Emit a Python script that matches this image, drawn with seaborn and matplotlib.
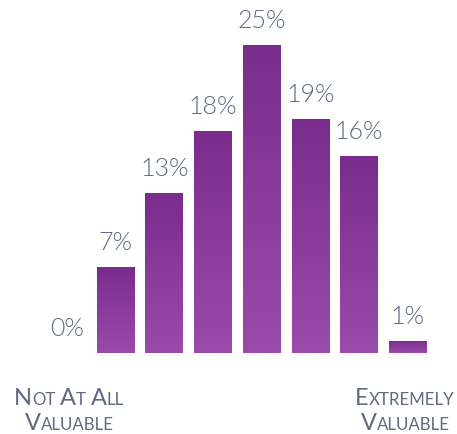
import matplotlib
matplotlib.use("Agg")
import matplotlib.pyplot as plt
import numpy as np
import pandas as pd
import seaborn as sns
from matplotlib.colors import LinearSegmentedColormap

# ---- data ----
scale_points = ["1", "2", "3", "4", "5", "6", "7", "8"]
percent_values = [0, 7, 13, 18, 25, 19, 16, 1]
value_labels = ["0%", "7%", "13%", "18%", "25%", "19%", "16%", "1%"]
left_label = ["Not At All", "Valuable"]
right_label = ["Extremely", "Valuable"]

TEXT_COLOR = "#5f6a7e"
FONT = ["Lato", "DejaVu Sans"]

sns.set_theme(style="white")
plt.rcParams["font.family"] = FONT

W, H = 457, 434
fig = plt.figure(figsize=(W / 100, H / 100), dpi=100)
ax = fig.add_axes([0, 0, 1, 1])

df = pd.DataFrame({"point": scale_points, "pct": percent_values})
sns.barplot(data=df, x="point", y="pct", order=scale_points, width=0.78,
            color="#8a3c9e", saturation=1, ax=ax)

ax.set_xlim(-67 / 48.7, (W - 67) / 48.7)
ax.set_ylim(-81 / 12.32, (H - 81) / 12.32)
ax.axis("off")

# gradient fill for each bar
cmap = LinearSegmentedColormap.from_list("purp", ["#9a4aab", "#7a2c8d"])
grad = np.linspace(0, 1, 256).reshape(-1, 1)
for patch in ax.patches:
    x0, y0 = patch.get_x(), patch.get_y()
    w, h = patch.get_width(), patch.get_height()
    if h <= 0:
        continue
    im = ax.imshow(grad, extent=[x0, x0 + w, y0, y0 + h], origin="lower",
                   cmap=cmap, aspect="auto", zorder=patch.get_zorder() + 0.1)
    im.set_clip_path(patch)
    patch.set_edgecolor("none")

# value labels
for patch, lab in zip(ax.patches, value_labels):
    cx = patch.get_x() + patch.get_width() / 2
    top = patch.get_y() + patch.get_height()
    ax.annotate(lab, (cx, top), xytext=(0, 17.3), textcoords="offset points",
                ha="center", va="center", fontsize=18, fontweight=300,
                color=TEXT_COLOR)

ax.set_xlim(-67 / 48.7, (W - 67) / 48.7)
ax.set_ylim(-81 / 12.32, (H - 81) / 12.32)

# small-caps axis end labels
renderer = fig.canvas.get_renderer()
BIG, SMALL = 17, 12.2


def smallcaps_line(cx_px, base_px_from_top, text):
    segs = []
    words = text.split(" ")
    for i, wd in enumerate(words):
        if i > 0:
            segs.append((None, SMALL))
        segs.append((wd[0].upper(), BIG))
        if len(wd) > 1:
            segs.append((wd[1:].upper(), SMALL))
    arts, widths = [], []
    for s, sz in segs:
        if s is None:
            arts.append(None)
            widths.append(sz * 100 / 72 * 0.28)
            continue
        t = fig.text(0, 0, s, fontsize=sz, color=TEXT_COLOR, va="baseline",
                     ha="left")
        arts.append(t)
        widths.append(t.get_window_extent(renderer).width)
    total = sum(widths)
    x = cx_px - total / 2
    yb = (H - base_px_from_top) / H
    for t, wdt in zip(arts, widths):
        if t is not None:
            t.set_position((x / W, yb))
        x += wdt


smallcaps_line(69, 405, left_label[0])
smallcaps_line(69, 430, left_label[1])
smallcaps_line(405, 405, right_label[0])
smallcaps_line(405, 430, right_label[1])

fig.savefig("out.png", dpi=100)
